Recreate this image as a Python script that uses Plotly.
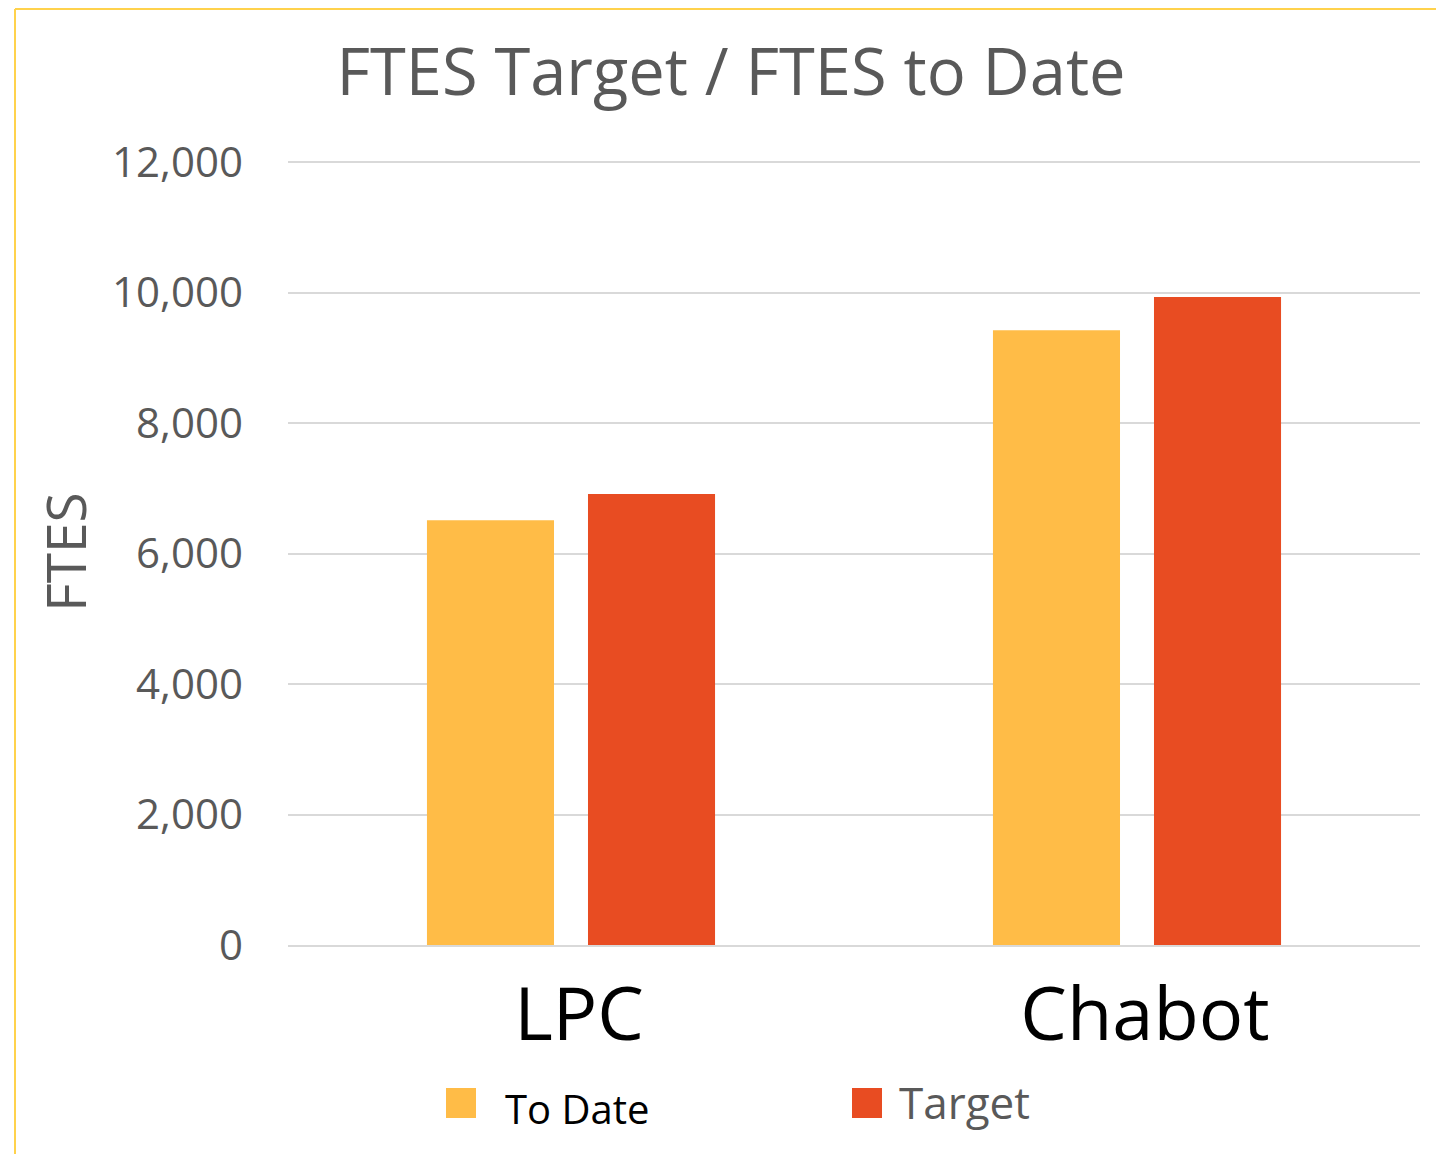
import plotly.graph_objects as go

# ---- data ----
categories = ["LPC", "Chabot"]
series_names = ["To Date", "Target"]
to_date = [6510, 9420]
target = [6910, 9930]
y_ticks = [0, 2000, 4000, 6000, 8000, 10000, 12000]
y_tick_text = ["0", "2,000", "4,000", "6,000", "8,000", "10,000", "12,000"]
y_top = 12000

YELLOW = "#FFBC47"
RED = "#E84C22"
GRAY = "#595959"
FONT = "Open Sans"

W, H = 1444, 1154
OFF = 8    # page offset of the figure in the browser
EXTRA = 3  # extra px above the top gridline so it is not clipped
# plot area in screen pixels: x 288..1420, y 162..945 (top gridline at 162)
L = 288 - OFF
T = 162 - OFF - EXTRA
R = W - (1420 - OFF)
B = H - (945 - OFF)
PW = W - L - R
PH = H - T - B
y_range_top = y_top * PH / (PH - EXTRA)


def px(x):
    """screen x pixel -> paper coordinate"""
    return (x - OFF - L) / PW


def py(y):
    """screen y pixel -> paper coordinate"""
    return 1 - (y - OFF - T) / PH


fig = go.Figure()
fig.add_bar(x=categories, y=to_date, name=series_names[0],
            marker=dict(color=YELLOW, line=dict(width=0)))
fig.add_bar(x=categories, y=target, name=series_names[1],
            marker=dict(color=RED, line=dict(width=0)))

fig.update_layout(
    width=W, height=H,
    margin=dict(l=L, r=R, t=T, b=B),
    paper_bgcolor="white", plot_bgcolor="white",
    barmode="group", bargap=0.431, bargroupgap=0.211,
    showlegend=False,
    font=dict(family=FONT, color=GRAY),
    title=dict(text="FTES Target / FTES to Date", x=(731 - OFF) / W, xanchor="center",
               y=1 - (72 - OFF) / H, yanchor="middle", yref="container",
               font=dict(family=FONT, size=65, color=GRAY)),
)

fig.update_yaxes(
    range=[0, y_range_top], tickvals=y_ticks, ticktext=y_tick_text,
    showgrid=True, gridcolor="#D9D9D9", gridwidth=2,
    zeroline=False, showline=False, ticks="",
    tickfont=dict(family=FONT, size=42, color=GRAY),
    ticklabelstandoff=44,
    title=dict(text="FTES", font=dict(family=FONT, size=55, color=GRAY), standoff=7),
)
fig.update_xaxes(
    showgrid=False, showline=True, linecolor="#D9D9D9", linewidth=2, ticks="",
    tickfont=dict(family=FONT, size=74, color="black"),
    ticklabelstandoff=4, ticklabelshift=8,
)

# outer yellow border (top and left)
fig.add_shape(type="line", xref="paper", yref="paper",
              x0=px(15), x1=px(W + 20), y0=py(OFF + 1), y1=py(OFF + 1),
              line=dict(color="#FFD24C", width=2))
fig.add_shape(type="line", xref="paper", yref="paper",
              x0=px(15), x1=px(15), y0=py(OFF + 1), y1=py(H + 20),
              line=dict(color="#FFD24C", width=2))

# legend drawn manually (large square swatches)
fig.add_shape(type="rect", xref="paper", yref="paper",
              x0=px(446), x1=px(476), y0=py(1118), y1=py(1088),
              fillcolor=YELLOW, line=dict(width=0))
fig.add_shape(type="rect", xref="paper", yref="paper",
              x0=px(852), x1=px(882), y0=py(1118), y1=py(1088),
              fillcolor=RED, line=dict(width=0))
fig.add_annotation(xref="paper", yref="paper", x=px(503), y=py(1108),
                   xanchor="left", yanchor="middle", showarrow=False,
                   text=series_names[0], font=dict(family=FONT, size=40, color="black"))
fig.add_annotation(xref="paper", yref="paper", x=px(897), y=py(1102),
                   xanchor="left", yanchor="middle", showarrow=False,
                   text=series_names[1], font=dict(family=FONT, size=44, color=GRAY))

fig.write_html("out.html")
